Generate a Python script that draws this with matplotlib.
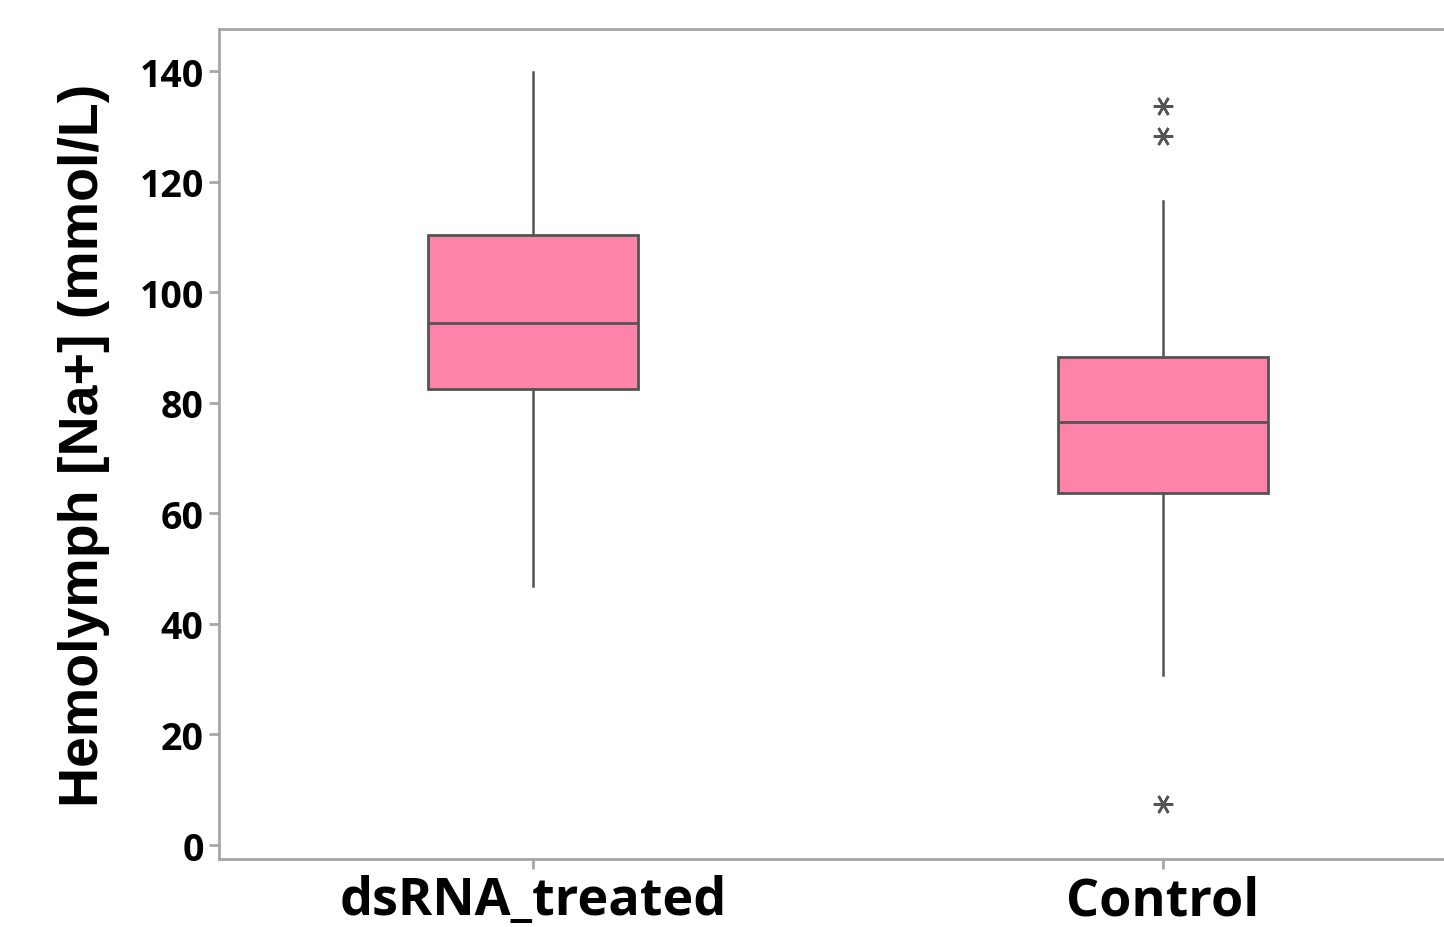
import matplotlib.pyplot as plt

groups = ["dsRNA_treated", "Control"]
whisker_low = [46.8, 30.7]
q1 = [82.5, 63.7]
median = [94.4, 76.5]
q3 = [110.3, 88.3]
whisker_high = [139.8, 116.5]
outliers = [[], [133.7, 128.2, 7.4]]
y_ticks = [0, 20, 40, 60, 80, 100, 120, 140]

EDGE = "#545454"
FILL = "#ff82a9"
SPINE = "#a6a6a6"

stats = []
for i, g in enumerate(groups):
    stats.append({
        "label": g, "whislo": whisker_low[i], "q1": q1[i], "med": median[i],
        "q3": q3[i], "whishi": whisker_high[i], "fliers": outliers[i],
    })

fig = plt.figure(figsize=(14.44, 9.28), dpi=100)
ax = fig.add_axes([219 / 1444, 68 / 928, 1 - 219 / 1444, 830 / 928])

ax.bxp(
    stats, positions=[1, 2], widths=0.332, patch_artist=True, showcaps=False,
    boxprops=dict(facecolor=FILL, edgecolor=EDGE, linewidth=2.0),
    medianprops=dict(color=EDGE, linewidth=2.0),
    whiskerprops=dict(color=EDGE, linewidth=1.8),
    flierprops=dict(marker=(6, 2, 90), markersize=14, markeredgecolor=EDGE,
                    markerfacecolor=EDGE, markeredgewidth=1.8, linestyle="none"),
)

ax.set_xlim(1 - 314 / 630, 2 + 281 / 630)
ax.set_ylim(-2.53, 147.6)
ax.set_yticks(y_ticks)
ax.set_xticks([1, 2])
ax.set_xticklabels(groups, fontsize=37.5, fontfamily="Open Sans", fontweight="bold")
for lab in ax.get_yticklabels():
    lab.set_fontsize(27)
    lab.set_fontfamily("Open Sans")
    lab.set_fontweight("bold")

ax.set_ylabel("Hemolymph [Na+] (mmol/L)", fontsize=40, fontfamily="Liberation Sans",
              fontweight="bold", labelpad=21)

for side in ["left", "bottom", "top"]:
    ax.spines[side].set_color(SPINE)
    ax.spines[side].set_linewidth(2.0)
ax.spines["right"].set_visible(False)
ax.tick_params(axis="both", direction="out", length=7, width=2.0, color=SPINE, pad=4)

fig.savefig("out.png", dpi=100)
